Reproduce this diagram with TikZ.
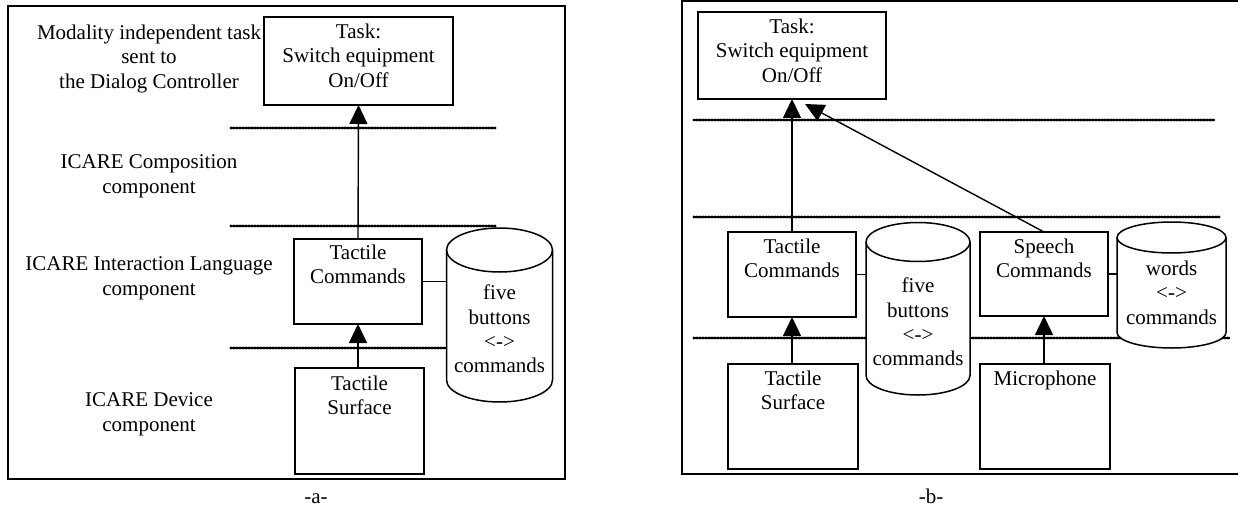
\documentclass[tikz,border=0pt]{standalone}
\usepackage{fontspec}
\setmainfont{Liberation Serif}
\usetikzlibrary{arrows.meta}

% vertical drum: centre x, x radius, top-ellipse y, bottom-ellipse y, y radius
\newcommand\drum[5]{%
  \fill[white] ({#1-#2},#3) -- ({#1-#2},#4)
    arc[start angle=180,end angle=360,x radius=#2pt,y radius=#5pt]
    -- ({#1+#2},#3) arc[start angle=0,end angle=180,x radius=#2pt,y radius=#5pt] -- cycle;
  \draw[drumline] ({#1-#2},#3) -- ({#1-#2},#4)
    arc[start angle=180,end angle=360,x radius=#2pt,y radius=#5pt] -- ({#1+#2},#3);
  \draw[drumline] (#1,#3) ellipse[x radius=#2pt,y radius=#5pt];
}
% beaded layer separator: thin solid core with round beads on it
\newcommand\layerline[3]{%
  \draw[layercore] (#1,#3) -- (#2,#3);
  \draw[layerbeads] (#1,#3) -- (#2,#3);
}

\begin{document}
\begin{tikzpicture}[x=1pt,y=-1pt,
  txt/.style={font=\fontsize{21}{24.3}\selectfont, align=center, inner sep=0pt, outer sep=0pt},
  box/.style={draw, line width=1.5pt, inner sep=0pt, outer sep=0pt},
  frame/.style={draw, line width=2pt},
  drumline/.style={line width=1.5pt},
  layercore/.style={line width=1.6pt},
  layerbeads/.style={line width=3.2pt, dash pattern=on 0pt off 3pt, line cap=round},
  arr/.style={line width=1.4pt, -{Triangle[length=19pt,width=18pt]}},
  link/.style={line width=1.3pt}]

\useasboundingbox (0,0) rectangle (1238,508);

% ---------------- panel (a) ----------------
\draw[frame] (8,6) rectangle (565,479);

\layerline{231}{495}{128}
\layerline{231}{495}{226}
\layerline{231}{495}{348}

\node[txt, anchor=north] (lt1) at (149,25) {Modality independent task\\sent to\\the Dialog Controller};
\node[txt, anchor=north] (lt2) at (149,155) {ICARE Composition\\component};
\node[txt, anchor=north] (lt3) at (149,257) {ICARE Interaction Language\\component};
\node[txt, anchor=north] (lt4) at (149,393) {ICARE Device\\component};

\node[box, minimum width=189pt, minimum height=88pt] (taska) at (358.5,61) {};
\node[txt, anchor=north] (taskatxt) at ([yshift=-7pt]taska.north) {Task:\\Switch equipment\\On/Off};

\node[box, fill=white, minimum width=128pt, minimum height=85pt] (tca) at (358,281.5) {};
\node[txt, anchor=north] (tcatxt) at ([yshift=-6pt]tca.north) {Tactile\\Commands};

\node[box, fill=white, minimum width=129pt, minimum height=106pt] (tsa) at (359.5,421) {};
\node[txt, anchor=north] (tsatxt) at ([yshift=-8pt]tsa.north) {Tactile\\Surface};

\drum{499.5}{53}{250}{380}{22}
\node[txt, text width=107pt, anchor=north] (dba) at (499.5,285) {five\\buttons\\<->\\commands};

\draw[arr] (tca.north) -- (taska.south);
\draw[arr] (tca.south |- tsa.north) -- (tca.south);
\draw[link] (tca.east) -- (tca.east -| dba.west);

\node[txt, anchor=base] (capa) at (316,503) {-a-};

% ---------------- panel (b) ----------------
\draw[frame] (1242,1) -- (682,1) -- (682,474) -- (1242,474);

\layerline{694}{1215}{120}
\layerline{694}{1220}{217}
\layerline{694}{1230}{338}

\node[box, minimum width=188pt, minimum height=87pt] (taskb) at (792,55.5) {};
\node[txt, anchor=north] (taskbtxt) at ([yshift=-7pt]taskb.north) {Task:\\Switch equipment\\On/Off};

\node[box, fill=white, minimum width=128pt, minimum height=85pt] (tcb) at (792,274.5) {};
\node[txt, anchor=north] (tcbtxt) at ([yshift=-7pt]tcb.north) {Tactile\\Commands};

\node[box, fill=white, minimum width=128pt, minimum height=84pt] (scb) at (1044,274) {};
\node[txt, anchor=north] (scbtxt) at ([yshift=-7pt]scb.north) {Speech\\Commands};

\node[box, fill=white, minimum width=130pt, minimum height=105pt] (tsb) at (793,416.5) {};
\node[txt, anchor=north] (tsbtxt) at ([yshift=-7pt]tsb.north) {Tactile\\Surface};

\node[box, fill=white, minimum width=130pt, minimum height=105pt] (mic) at (1045,416.5) {};
\node[txt, anchor=north] (mictxt) at ([yshift=-7pt]mic.north) {Microphone};

\drum{918}{52}{242}{375.5}{19.5}
\node[txt, text width=104pt, anchor=north] (dbb) at (918,278) {five\\buttons\\<->\\commands};

\drum{1171.5}{54.5}{237.5}{332.5}{15.5}
\node[txt, text width=109pt, anchor=north] (dbw) at (1171.5,261) {words\\<->\\commands};

\coordinate (stip) at (805,104);
\draw[arr] (tcb.north) -- (tcb.north |- taskb.south);
\draw[arr] (scb.north) -- (stip);
\draw[arr] (tcb.south |- tsb.north) -- (tcb.south);
\draw[arr] (scb.south |- mic.north) -- (scb.south);
\draw[link] (tcb.east) -- (tcb.east -| dbb.west);
\draw[link] (scb.east) -- (scb.east -| dbw.west);

\node[txt, anchor=base] (capb) at (931,503) {-b-};
\end{tikzpicture}
\end{document}
